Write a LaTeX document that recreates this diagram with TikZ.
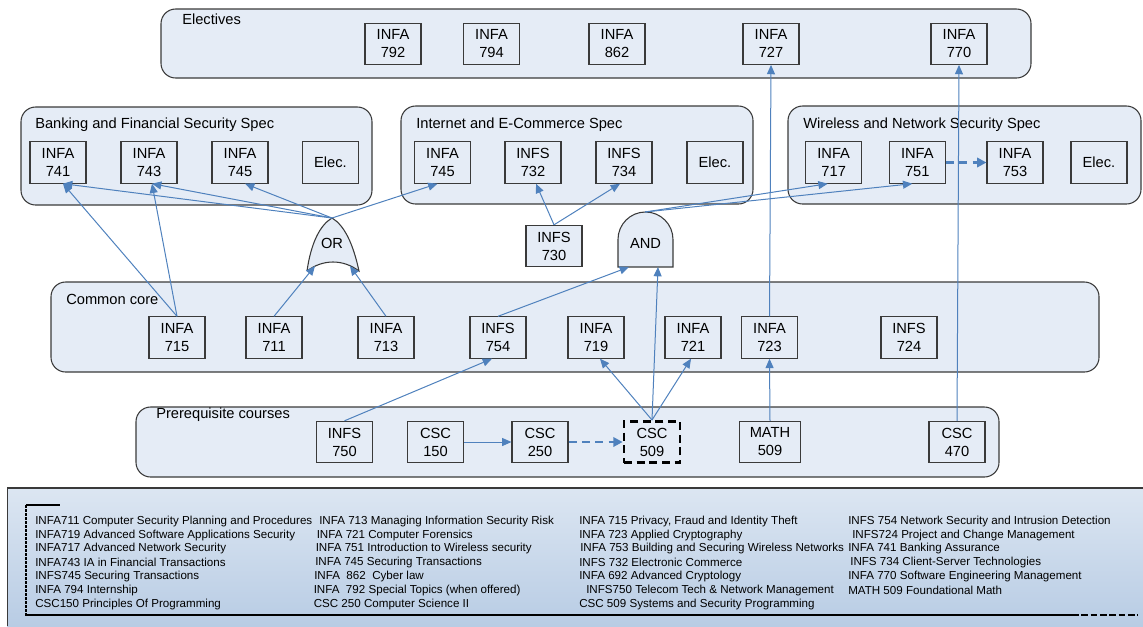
\documentclass[tikz,border=0pt]{standalone}
\usepackage{fontspec}
\setmainfont{Liberation Sans}
\usetikzlibrary{arrows.meta,calc}
\definecolor{grpfill}{HTML}{E5ECF6}
\definecolor{lnblue}{HTML}{4F81BD}
\definecolor{bord}{HTML}{3A3A3A}
\definecolor{legtop}{HTML}{DCE6F2}
\definecolor{legbot}{HTML}{B8CCE4}
\begin{document}
\begin{tikzpicture}[x=0.75pt,y=-0.75pt,
  group/.style={draw=bord, fill=grpfill, rounded corners=11pt, line width=0.8pt},
  glabel/.style={anchor=west, font=\fontsize{11}{13}\selectfont, inner sep=0pt},
  course/.style={draw=bord, fill=grpfill, line width=0.8pt, minimum width=42pt, minimum height=31pt, inner sep=0pt, align=center, font=\fontsize{11}{13.5}\selectfont},
  gate/.style={draw=bord, fill=grpfill, line width=0.8pt},
  gtext/.style={font=\fontsize{11}{13}\selectfont, inner sep=0pt},
  conn/.style={draw=lnblue, line width=0.75pt, -{Triangle[length=7pt,width=6pt]}},
  dconn/.style={draw=lnblue, line width=2.2pt, dash pattern=on 6pt off 4pt, -{Triangle[length=7pt,width=7pt]}},
  leg/.style={anchor=west, font=\fontsize{8.7}{10}\selectfont, inner sep=0pt}]
\useasboundingbox (0,0) rectangle (1143,626);

% groups
\draw[group] (161,9) rectangle (1031,78);
\node[glabel] (gel) at (182,19) {Electives};
\draw[group] (21,107) rectangle (372,205);
\node[glabel] (gbk) at (35,125) {Banking and Financial Security Spec};
\draw[group] (401,106) rectangle (753,204);
\node[glabel] (gin) at (416,125) {Internet and E-Commerce Spec};
\draw[group] (788,106) rectangle (1141,204);
\node[glabel] (gwi) at (803,125) {Wireless and Network Security Spec};
\draw[group] (51,282) rectangle (1099,372);
\node[glabel] (gcc) at (66,299) {Common core};
\draw[group] (136,407) rectangle (999,477);
\node[glabel] (gpr) at (156,415) {Prerequisite courses};

% electives
\node[course] (e792) at (393,43.7) {INFA\\792};
\node[course] (e794) at (491.5,43.7) {INFA\\794};
\node[course] (e862) at (617,43.7) {INFA\\862};
\node[course] (e727) at (771,43.7) {INFA\\727};
\node[course] (e770) at (959,43.7) {INFA\\770};

% banking
\node[course] (n741) at (58,162.5) {INFA\\741};
\node[course] (n743) at (149,162.5) {INFA\\743};
\node[course] (n745a) at (240,162.5) {INFA\\745};
\node[course] (elb) at (330.5,162.5) {Elec.};

% internet
\node[course] (n745b) at (442.5,162.5) {INFA\\745};
\node[course] (n732) at (533,162.5) {INFS\\732};
\node[course] (n734) at (624,162.5) {INFS\\734};
\node[course] (eli) at (715,162.5) {Elec.};
\node[course] (n730) at (554,246) {INFS\\730};

% wireless
\node[course] (n717) at (833.7,162.5) {INFA\\717};
\node[course] (n751) at (917.3,162.5) {INFA\\751};
\node[course] (n753) at (1015,162.5) {INFA\\753};
\node[course] (elw) at (1099,162.5) {Elec.};

% common core
\node[course] (n715) at (177,337.5) {INFA\\715};
\node[course] (n711) at (274,337.5) {INFA\\711};
\node[course] (n713) at (386,337.5) {INFA\\713};
\node[course] (n754) at (498,337.5) {INFS\\754};
\node[course] (n719) at (596,337.5) {INFA\\719};
\node[course] (n721) at (693,337.5) {INFA\\721};
\node[course] (n723) at (769.5,337.5) {INFA\\723};
\node[course] (n724) at (909,337.5) {INFS\\724};

% prerequisites
\node[course] (n750) at (344.5,442) {INFS\\750};
\node[course] (c150) at (435.5,442) {CSC\\150};
\node[course] (c250) at (540,442) {CSC\\250};
\node[course, draw=black, line width=2pt, dash pattern=on 6pt off 3.5pt] (c509) at (652,442) {CSC\\509};
\node[course, minimum width=46pt] (m509) at (770,442) {MATH\\509};
\node[course] (c470) at (957,442) {CSC\\470};

% OR gate
\draw[gate] (307,271) .. controls (311,243) and (320,225) .. (332,218)
  .. controls (344,225) and (353,243) .. (359,271)
  .. controls (343,259) and (323,259) .. (307,271);
\node[gtext] (or) at (332,243) {OR};
\coordinate (ortop) at (332,218);
\coordinate (orinL) at (315,266);
\coordinate (orinR) at (350,266);

% AND gate
\draw[gate] (618,267) -- (618,239.5) .. controls (618,224.3) and (630.3,212) .. (645.5,212)
  .. controls (660.7,212) and (673,224.3) .. (673,239.5) -- (673,267) -- cycle;
\node[gtext] (and) at (645.5,243) {AND};
\coordinate (andtop) at (645,212);
\coordinate (andinL) at (629,267);
\coordinate (andinR) at (658,267);

% connectors
\draw[conn] (ortop) -- ($(n741.south)+(5,0)$);
\draw[conn] (ortop) -- ($(n743.south)+(3,0)$);
\draw[conn] (ortop) -- ($(n745a.south)+(5,0)$);
\draw[conn] (ortop) -- ($(n745b.south)+(-5,0)$);
\draw[conn] (n715.north) -- ($(n741.south)+(5,0)$);
\draw[conn] (n715.north) -- ($(n743.south)+(3,0)$);
\draw[conn] (n711.north) -- (orinL);
\draw[conn] (n713.north) -- (orinR);
\draw[conn] (n754.north) -- (andinL);
\draw[conn] (c509.north) -- (andinR);
\draw[conn] (c509.north) -- ($(n719.south)+(4,0)$);
\draw[conn] (c509.north) -- ($(n721.south)+(-2,0)$);
\draw[conn] (andtop) -- ($(n717.south)+(-6,0)$);
\draw[conn] (andtop) -- ($(n751.south)+(-5,0)$);
\draw[conn] (n730.north) -- ($(n732.south)+(3,0)$);
\draw[conn] (n730.north) -- ($(n734.south)+(-4,0)$);
\draw[conn] (n750.north) -- ($(n754.south)+(-6,0)$);
\draw[conn] (n723.north) -- (e727.south);
\draw[conn] (m509.north) -- (n723.south);
\draw[conn] (c470.north) -- (e770.south);
\draw[conn] (c150.east) -- (c250.west);
\draw[dconn] (c250.east) -- (c509.west);
\draw[dconn] (n751.east) -- (n753.west);

% legend
\shade[top color=legtop, bottom color=legbot] (7,488) rectangle (1143,626);
\draw[draw=bord, line width=0.8pt] (7.5,626) -- (7.5,488) -- (1143,488);
\draw[black, line width=0.8pt] (26,505) -- (60,505);
\draw[black, line width=2.2pt, dash pattern=on 2pt off 1pt] (26,505) -- (26,616);
\draw[black, line width=0.8pt] (26,615) -- (1072,615);
\draw[black, line width=2.2pt, dash pattern=on 5pt off 2pt] (1072,615) -- (1138,615);

\node[leg] (l11) at (35,521) {INFA711 Computer Security Planning and Procedures};
\node[leg] (l12) at (35,535) {INFA719 Advanced Software Applications Security};
\node[leg] (l13) at (35,548.5) {INFA717 Advanced Network Security};
\node[leg] (l14) at (35,562) {INFA743 IA in Financial Transactions};
\node[leg] (l15) at (35,576) {INFS745 Securing Transactions};
\node[leg] (l16) at (35,590) {INFA 794 Internship};
\node[leg] (l17) at (35,604) {CSC150 Principles Of Programming};

\node[leg] (l21) at (319,521) {INFA 713 Managing Information Security Risk};
\node[leg] (l22) at (316.5,535) {INFA 721 Computer Forensics};
\node[leg] (l23) at (315.5,548.5) {INFA 751 Introduction to Wireless security};
\node[leg] (l24) at (315,562) {INFA 745 Securing Transactions};
\node[leg] (l25) at (314,576) {INFA\ \ 862\ \ Cyber law};
\node[leg] (l26) at (313.5,590) {INFA\ \ 792 Special Topics (when offered)};
\node[leg] (l27) at (313.5,604) {CSC 250 Computer Science II};

\node[leg] (l31) at (579,521) {INFA 715 Privacy, Fraud and Identity Theft};
\node[leg] (l32) at (579,535) {INFA 723 Applied Cryptography};
\node[leg] (l33) at (580,548.5) {INFA 753 Building and Securing Wireless Networks};
\node[leg] (l34) at (579,562) {INFS 732 Electronic Commerce};
\node[leg] (l35) at (579,576) {INFA 692 Advanced Cryptology};
\node[leg] (l36) at (586,590) {INFS750 Telecom Tech \& Network Management};
\node[leg] (l37) at (579,604) {CSC 509 Systems and Security Programming};

\node[leg] (l41) at (848,521) {INFS 754 Network Security and Intrusion Detection};
\node[leg] (l42) at (852,535) {INFS724 Project and Change Management};
\node[leg] (l43) at (848,548.5) {INFA 741 Banking Assurance};
\node[leg] (l44) at (850,562) {INFS 734 Client-Server Technologies};
\node[leg] (l45) at (848,576) {INFA 770 Software Engineering Management};
\node[leg] (l46) at (848,590) {MATH 509 Foundational Math};
\end{tikzpicture}
\end{document}
